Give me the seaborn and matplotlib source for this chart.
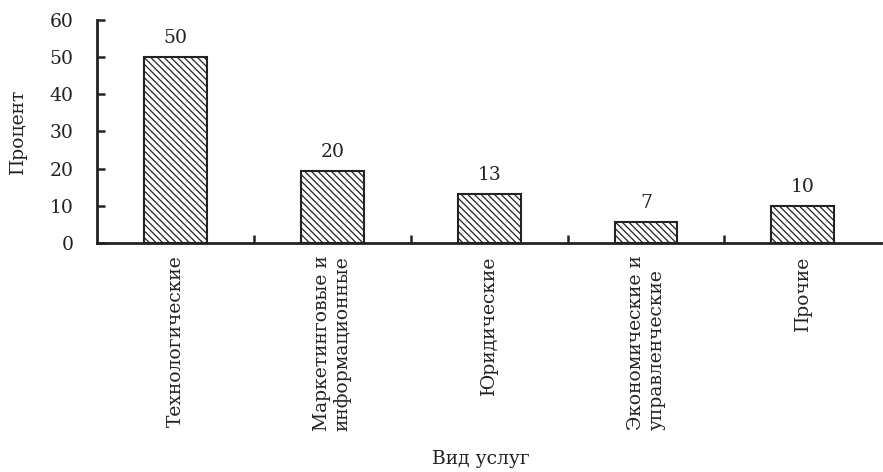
import matplotlib
matplotlib.use("Agg")
import matplotlib.pyplot as plt
import seaborn as sns
import pandas as pd
from matplotlib.ticker import FixedLocator

# ===== data =====
categories = ["Технологические", "Маркетинговые и\nинформационные", "Юридические",
              "Экономические и\nуправленческие", "Прочие"]
heights = [50, 19.5, 13.2, 5.7, 10]
labels = ["50", "20", "13", "7", "10"]

df = pd.DataFrame({"Вид услуг": categories, "Процент": heights})

sns.set_style("white")
plt.rcParams["font.family"] = ["DejaVu Serif"]
plt.rcParams["hatch.linewidth"] = 0.9
plt.rcParams["hatch.color"] = "#222222"

FS = 13.5
fig = plt.figure(figsize=(8.83, 4.72), dpi=100)
ax = fig.add_axes([0.110, 0.485, 0.888, 0.473])

sns.barplot(data=df, x="Вид услуг", y="Процент", color="white", edgecolor="#222222",
            linewidth=1.5, width=0.4, hatch="\\\\\\\\\\", saturation=1, ax=ax)

for c in ax.containers:
    ax.bar_label(c, labels=labels, padding=7, fontsize=FS, color="#222222")

ax.set_ylim(0, 60)
ax.set_xlim(-0.5, 4.5)
ax.set_yticks(range(0, 61, 10))
ax.tick_params(axis="y", direction="in", length=6, width=1.8, pad=17,
               labelsize=FS, colors="#222222", left=True)
ax.xaxis.set_minor_locator(FixedLocator([0.5, 1.5, 2.5, 3.5]))
ax.tick_params(axis="x", which="major", length=0, pad=9, labelsize=FS, colors="#222222")
ax.tick_params(axis="x", which="minor", direction="in", length=6, width=1.8,
               bottom=True, color="#222222")
for t in ax.get_xticklabels():
    t.set_rotation(90)
    t.set_va("top")
    t.set_ha("center")
    t.set_multialignment("left")

for s in ["top", "right"]:
    ax.spines[s].set_visible(False)
for s in ["left", "bottom"]:
    ax.spines[s].set_linewidth(2)
    ax.spines[s].set_color("#222222")

ax.set_ylabel("Процент", fontsize=FS, color="#222222", labelpad=16)
ax.set_xlabel("Вид услуг", fontsize=FS, color="#222222")
ax.xaxis.set_label_coords(0.49, -0.925)

plt.savefig("out.png", dpi=100)
